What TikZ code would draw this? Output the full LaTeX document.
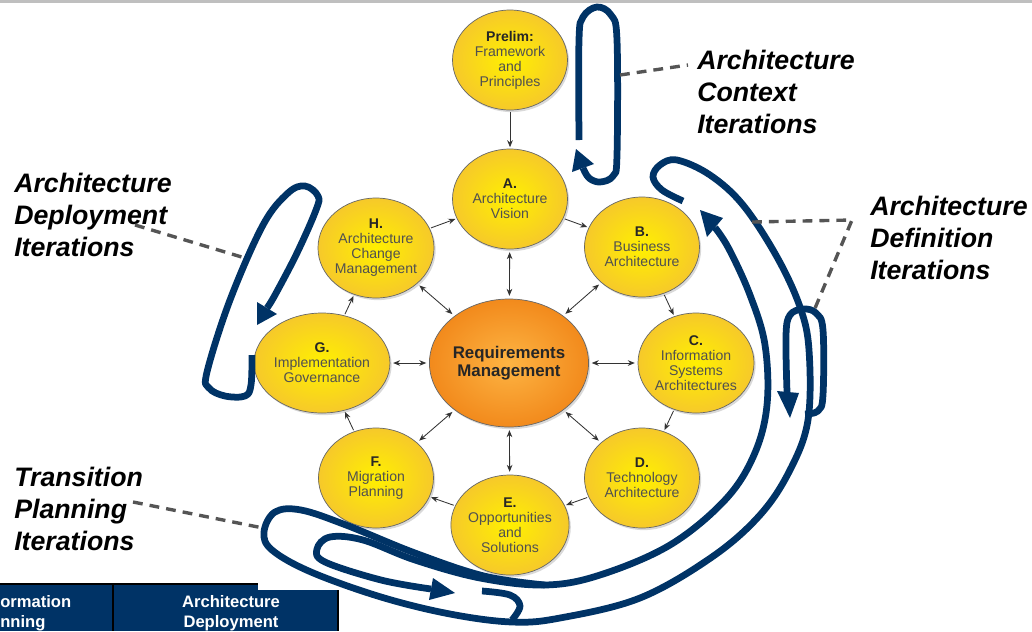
\documentclass[tikz,border=0pt]{standalone}
\usepackage{fontspec}
\setmainfont{Liberation Sans}
\usetikzlibrary{shapes.geometric,shadows,arrows.meta}
\definecolor{navy}{HTML}{003366}
\definecolor{yelin}{HTML}{FFF000}
\definecolor{yelout}{HTML}{F6C92A}
\definecolor{orgin}{HTML}{FDB443}
\definecolor{orgout}{HTML}{F28A1C}
\definecolor{phtext}{HTML}{505050}
\definecolor{phbold}{HTML}{262626}
\definecolor{leadgray}{HTML}{555555}
\tikzset{
  phasenode/.style={ellipse, draw=black!60, line width=0.5pt, inner color=yelin, outer color=yelout,
    minimum width=2.875cm, minimum height=2.5cm, align=center, text=phtext,
    font=\fontsize{10}{10.7}\selectfont,
    drop shadow={shadow xshift=1.2pt, shadow yshift=-1.5pt, opacity=0.3}},
  reqnode/.style={phasenode, inner color=orgin, outer color=orgout, minimum width=3.7cm, minimum height=3.2cm,
    text=phbold, font=\fontsize{12}{12.6}\selectfont\bfseries},
  cyc/.style={-{Stealth[length=5pt,width=4pt]}, draw=black!80, line width=0.6pt, shorten <=1pt, shorten >=1pt},
  twoway/.style={{Stealth[length=5pt,width=4pt]}-{Stealth[length=5pt,width=4pt]}, draw=black!80, line width=0.6pt, shorten <=2pt, shorten >=2pt},
  iterloop/.style={draw=navy, line width=4.8pt, line join=round},
  leader/.style={draw=leadgray, line width=2.4pt, dash pattern=on 7pt off 5pt},
  iterlabel/.style={anchor=west, align=left, font=\fontsize{19}{22.8}\selectfont\bfseries\itshape},
  tabtext/.style={text=white, font=\fontsize{11.8}{14.2}\selectfont\bfseries}
}
\begin{document}
\begin{tikzpicture}[scale=0.25]
            \tikzstyle{every node}+=[inner sep=0pt]
            \useasboundingbox (0,0) rectangle (103.2,-63.1);
            \fill [black!25] (0,0) rectangle (103.2,-0.3);
            % table behind the loops
            \fill [navy] (0,-58.4) rectangle (33.8,-63.1);
            \fill [white] (25.8,-57.0) rectangle (34.2,-59.0);
            \draw [black, line width=1.4pt] (0,-58.4) -- (25.8,-58.4);
            \draw [black, line width=1.4pt] (11.3,-58.4) -- (11.3,-63.1);
            \draw [black, line width=1.4pt] (33.8,-59.0) -- (33.8,-63.1);
            \node [tabtext, anchor=west, align=left] (tabl) at (0,-61.3) {ormation\\nning};
            \node [tabtext, align=center] (tabr) at (23.1,-61.3) {Architecture\\Deployment};
            % phases
            \node [phasenode] (prelim) at (51.0,-6.0) {{\color{phbold}\textbf{Prelim:}}\\Framework\\and\\Principles};
            \node [phasenode] (a) at (51.0,-19.9) {{\color{phbold}\textbf{A.}}\\Architecture\\Vision};
            \node [phasenode] (b) at (64.2,-24.7) {{\color{phbold}\textbf{B.}}\\Business\\Architecture};
            \node [phasenode] (c) at (69.6,-36.3) {{\color{phbold}\textbf{C.}}\\Information\\Systems\\Architectures};
            \node [phasenode] (d) at (64.2,-47.8) {{\color{phbold}\textbf{D.}}\\Technology\\Architecture};
            \node [phasenode] (e) at (51.0,-52.5) {{\color{phbold}\textbf{E.}}\\Opportunities\\and\\Solutions};
            \node [phasenode] (f) at (37.6,-47.8) {{\color{phbold}\textbf{F.}}\\Migration\\Planning};
            \node [phasenode] (g) at (32.2,-36.3) {{\color{phbold}\textbf{G.}}\\Implementation\\Governance};
            \node [phasenode] (h) at (37.6,-24.8) {{\color{phbold}\textbf{H.}}\\Architecture\\Change\\Management};
            \node [reqnode] (req) at (50.9,-36.3) {Requirements\\Management};
            \draw [cyc] (prelim) -- (a);
            \draw [cyc] (a) -- (b);
            \draw [cyc] (b) -- (c);
            \draw [cyc] (c) -- (d);
            \draw [cyc] (d) -- (e);
            \draw [cyc] (e) -- (f);
            \draw [cyc] (f) -- (g);
            \draw [cyc] (g) -- (h);
            \draw [cyc] (h) -- (a);
            \draw [twoway] (req) -- (a);
            \draw [twoway] (req) -- (b);
            \draw [twoway] (req) -- (c);
            \draw [twoway] (req) -- (d);
            \draw [twoway] (req) -- (e);
            \draw [twoway] (req) -- (f);
            \draw [twoway] (req) -- (g);
            \draw [twoway] (req) -- (h);
            % context iterations
            \draw [iterloop] plot [smooth, tension=0.6] coordinates {(57.9,-14.0) (57.9,-4.0) (58.3,-1.7) (59.7,-0.7) (61.1,-1.5) (61.7,-4.0) (61.7,-15.5) (61.3,-17.6) (60.0,-18.2) (58.9,-17.8) (58.3,-16.8)};
            \fill [navy] (57.6,-14.9) -- (59.4,-16.4) -- (57.2,-17.2);
            % deployment iterations
            \draw [iterloop] plot [smooth, tension=0.6] coordinates {(25.2,-35.5) (25.1,-38.5) (24.5,-39.6) (22.5,-39.6) (20.9,-38.8) (20.7,-37.2) (23.0,-30.0) (26.3,-22.5) (28.8,-19.3) (30.5,-18.6) (31.8,-19.6) (31.6,-21.0) (29.7,-25.3) (27.5,-29.5) (26.7,-30.8)};
            \fill [navy] (25.7,-32.5) -- (27.7,-31.4) -- (25.7,-30.2);
            % definition and transition iterations
            \draw [iterloop] plot [smooth, tension=0.6] coordinates {(71.5,-22.75) (72.9,-24.9) (75.0,-29.5) (76.5,-34.5) (76.7,-40.5) (75.4,-45.5) (72.5,-50.0) (67.0,-54.5) (60.0,-57.5) (54.5,-58.5) (48.0,-57.8) (41.5,-56.0) (36.3,-54.0) (33.0,-53.7) (31.7,-54.9) (32.5,-56.2) (38.1,-58.0) (43.1,-58.9)};
            \fill [navy] (70.0,-21.0) -- (72.3,-21.8) -- (70.7,-23.7);
            \fill [navy] (45.5,-59.3) -- (42.9,-60.0) -- (43.3,-57.8);
            \draw [iterloop] plot [smooth, tension=0.6] coordinates {(68.3,-20.1) (66.2,-19.0) (65.3,-17.7) (66.0,-16.5) (67.7,-16.0) (71.0,-17.5) (74.3,-20.5) (77.7,-25.7) (80.0,-30.7) (80.9,-35.0) (80.8,-42.0) (79.0,-47.0) (76.0,-51.5) (71.2,-55.7) (64.0,-59.8) (56.0,-61.8) (51.2,-62.2) (45.0,-61.4) (38.1,-59.7) (31.1,-57.2) (27.2,-55.0) (26.4,-53.2) (27.5,-51.2) (30.1,-51.0) (34.6,-52.5) (41.5,-55.3) (48.4,-57.6) (54.5,-58.5)};
            \draw [iterloop] plot [smooth, tension=0.6] coordinates {(48.2,-59.1) (51.0,-59.5) (52.0,-60.6) (51.2,-62.0)};
            \draw [iterloop] plot [smooth, tension=0.6] coordinates {(80.5,-41.4) (81.8,-41.1) (82.3,-39.5) (82.3,-33.0) (81.6,-31.3) (80.3,-30.9) (79.0,-31.5) (78.6,-33.5) (78.7,-39.2)};
            \fill [navy] (79.0,-41.8) -- (77.7,-39.1) -- (79.9,-39.3);
            % labels and leaders
            \node [iterlabel] (ctxlbl) at (69.7,-9.2) {Architecture\\Context\\Iterations};
            \node [iterlabel] (deflbl) at (87.0,-23.8) {Architecture\\Definition\\Iterations};
            \node [iterlabel] (deplbl) at (1.4,-21.5) {Architecture\\Deployment\\Iterations};
            \node [iterlabel] (tralbl) at (1.4,-50.9) {Transition\\Planning\\Iterations};
            \coordinate (ctxon) at (62.0,-7.5);
            \coordinate (ctxoff) at (68.8,-6.5);
            \coordinate (depoff) at (13.5,-22.5);
            \coordinate (depon) at (24.5,-25.8);
            \coordinate (traoff) at (13.3,-50.2);
            \coordinate (traon) at (26.3,-52.8);
            \coordinate (defon) at (75.2,-22.2);
            \coordinate (defcorner) at (85.2,-22.0);
            \coordinate (defloop) at (81.3,-31.3);
            \draw [leader] (ctxon) -- (ctxoff);
            \draw [leader] (depoff) -- (depon);
            \draw [leader] (traoff) -- (traon);
            \draw [leader] (defon) -- (defcorner) -- (defloop);
\end{tikzpicture}
\end{document}
